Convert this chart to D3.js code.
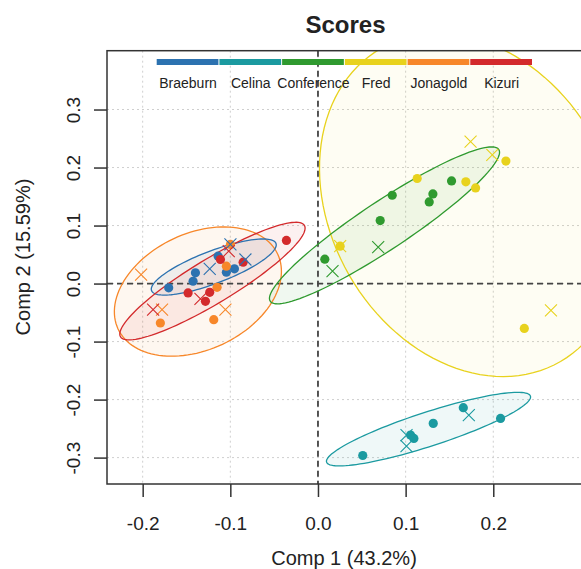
<!DOCTYPE html>
<html>
<head>
<meta charset="utf-8">
<script src="https://cdn.jsdelivr.net/npm/d3@7"></script>
<style>
  body { margin: 0; background: #fff; }
  text { font-family: "Liberation Sans", Arial, sans-serif; fill: #222; }
</style>
</head>
<body>
<div id="chart"></div>
<script>
// groups and colours
const groups = ['Braeburn', 'Celina', 'Conference', 'Fred', 'Jonagold', 'Kizuri'];
const colors = ['#2c72b0', '#1b9aa0', '#2f9a2f', '#e8d21d', '#f7872a', '#d32a2c'];

const xTicks = [-0.2, -0.1, 0.0, 0.1, 0.2];
const yTicks = [-0.3, -0.2, -0.1, 0.0, 0.1, 0.2, 0.3];

// scores (filled dots) per group, [comp1, comp2]
const braeburnDots = [[-0.1139, 0.0472], [-0.1398, 0.0185], [-0.1425, 0.0040], [-0.1703, -0.0074], [-0.1045, 0.0196], [-0.0953, 0.0254]];
const celinaDots = [[0.0511, -0.2964], [0.1056, -0.2612], [0.1094, -0.2670], [0.1315, -0.2410], [0.1658, -0.2140], [0.2083, -0.2324]];
const conferenceDots = [[0.0847, 0.1522], [0.0710, 0.1085], [0.1311, 0.1545], [0.1269, 0.1407], [0.1524, 0.1770], [0.0078, 0.0420]];
const fredDots = [[0.1132, 0.1811], [0.1687, 0.1753], [0.1798, 0.1649], [0.2144, 0.2111], [0.0253, 0.0645], [0.2354, -0.0773]];
const jonagoldDots = [[-0.1798, -0.0680], [-0.1189, -0.0623], [-0.1151, -0.0064], [-0.1045, 0.0299], [-0.0999, 0.0675]];
const kizuriDots = [[-0.1113, 0.0415], [-0.0854, 0.0369], [-0.1482, -0.0161], [-0.1284, -0.0306], [-0.1235, -0.0151], [-0.0360, 0.0744]];

// scores drawn as crosses
const braeburnCrosses = [[-0.1235, 0.0254], [-0.0828, 0.0415], [-0.0999, 0.0675]];
const celinaCrosses = [[0.1010, -0.2612], [0.1010, -0.2803], [0.1721, -0.2266]];
const conferenceCrosses = [[0.0687, 0.0628], [0.0166, 0.0213]];
const fredCrosses = [[0.1741, 0.2445], [0.1989, 0.2220], [0.2658, -0.0462], [0.0253, 0.0645]];
const jonagoldCrosses = [[-0.2018, 0.0156], [-0.1779, -0.0450], [-0.1056, -0.0450]];
const kizuriCrosses = [[-0.1341, -0.0265], [-0.1881, -0.0450], [-0.1018, 0.0559]];

// confidence ellipses: centre, first semi-axis vector, second semi-axis vector
const braeburnEllipse = [-0.1189, 0.0285, 0.0710, 0.0407, 0.0065, -0.0262];
const celinaEllipse = [0.1261, -0.2509, 0.1163, 0.0569, 0.0059, -0.0280];
const conferenceEllipse = [0.0759, 0.1003, 0.1304, 0.1308, 0.0151, -0.0346];
const fredEllipse = [0.1740, 0.1352, 0.1027, -0.2696, -0.1383, -0.1210];
const jonagoldEllipse = [-0.1370, -0.0138, 0.0911, 0.0644, 0.0280, -0.0909];
const kizuriEllipse = [-0.1204, 0.0043, 0.1049, 0.0960, 0.0130, -0.0326];

const dots = [braeburnDots, celinaDots, conferenceDots, fredDots, jonagoldDots, kizuriDots];
const crosses = [braeburnCrosses, celinaCrosses, conferenceCrosses, fredCrosses, jonagoldCrosses, kizuriCrosses];
const ellipses = [braeburnEllipse, celinaEllipse, conferenceEllipse, fredEllipse, jonagoldEllipse, kizuriEllipse];

const width = 581;
const height = 569;
const plot = { left: 107, right: 584, top: 50.7, bottom: 484 };

const svg = d3
  .select('#chart')
  .append('svg')
  .attr('width', width)
  .attr('height', height);

const x = d3.scaleLinear().domain([-0.2407, 0.3035]).range([plot.left, plot.right]);
const y = d3.scaleLinear().domain([-0.3455, 0.4014]).range([plot.bottom, plot.top]);

svg
  .append('clipPath')
  .attr('id', 'clip')
  .append('rect')
  .attr('x', plot.left)
  .attr('y', plot.top)
  .attr('width', plot.right - plot.left)
  .attr('height', plot.bottom - plot.top);

// grid
const grid = svg.append('g').attr('stroke', '#cfcfcf').attr('stroke-width', 1).attr('stroke-dasharray', '2,3');
grid
  .selectAll('.gx')
  .data(xTicks)
  .join('line')
  .attr('x1', (d) => x(d))
  .attr('x2', (d) => x(d))
  .attr('y1', plot.top)
  .attr('y2', plot.bottom);
grid
  .selectAll('.gy')
  .data(yTicks)
  .join('line')
  .attr('x1', plot.left)
  .attr('x2', plot.right)
  .attr('y1', (d) => y(d))
  .attr('y2', (d) => y(d));

// ellipses
const area = svg.append('g').attr('clip-path', 'url(#clip)');
const line = d3.line().curve(d3.curveLinearClosed);
const ellipsePath = (e) =>
  line(
    d3.range(120).map((i) => {
      const t = (i / 120) * 2 * Math.PI;
      return [x(e[0] + e[2] * Math.cos(t) + e[4] * Math.sin(t)), y(e[1] + e[3] * Math.cos(t) + e[5] * Math.sin(t))];
    })
  );

const order = [3, 4, 2, 1, 0, 5];
area
  .selectAll('.ell-fill')
  .data(order)
  .join('path')
  .attr('d', (g) => ellipsePath(ellipses[g]))
  .attr('fill', (g) => colors[g])
  .attr('fill-opacity', (g) => (g === 3 ? 0.05 : 0.07))
  .attr('stroke', 'none');

// zero lines
area
  .append('line')
  .attr('x1', x(0))
  .attr('x2', x(0))
  .attr('y1', plot.top)
  .attr('y2', plot.bottom)
  .attr('stroke', '#444')
  .attr('stroke-width', 1.8)
  .attr('stroke-dasharray', '6,4');
area
  .append('line')
  .attr('x1', plot.left)
  .attr('x2', plot.right)
  .attr('y1', y(0))
  .attr('y2', y(0))
  .attr('stroke', '#444')
  .attr('stroke-width', 1.8)
  .attr('stroke-dasharray', '6,4');

area
  .selectAll('.ell-line')
  .data(order)
  .join('path')
  .attr('d', (g) => ellipsePath(ellipses[g]))
  .attr('fill', 'none')
  .attr('stroke', (g) => colors[g])
  .attr('stroke-width', 1.3);

// points: dots first, crosses on top
groups.forEach((name, g) => {
  area
    .selectAll(null)
    .data(dots[g])
    .join('circle')
    .attr('cx', (d) => x(d[0]))
    .attr('cy', (d) => y(d[1]))
    .attr('r', 4.6)
    .attr('fill', colors[g]);
});
groups.forEach((name, g) => {
  area
    .selectAll(null)
    .data(crosses[g])
    .join('path')
    .attr('d', (d) => {
      const cx = x(d[0]);
      const cy = y(d[1]);
      const s = 6;
      return `M${cx - s},${cy - s}L${cx + s},${cy + s}M${cx - s},${cy + s}L${cx + s},${cy - s}`;
    })
    .attr('stroke', colors[g])
    .attr('stroke-width', 1.1)
    .attr('fill', 'none');
});

// legend
const legendX = d3.scaleBand().domain(groups).range([156.7, 533]);
const legend = svg.append('g');
legend
  .selectAll('rect')
  .data(groups)
  .join('rect')
  .attr('x', (d) => legendX(d))
  .attr('y', 59)
  .attr('width', legendX.bandwidth() - 1)
  .attr('height', 6)
  .attr('fill', (d, i) => colors[i]);
legend
  .selectAll('text')
  .data(groups)
  .join('text')
  .attr('x', (d) => legendX(d) + legendX.bandwidth() / 2)
  .attr('y', 88)
  .attr('text-anchor', 'middle')
  .attr('font-size', 14)
  .text((d) => d);

// frame
svg
  .append('rect')
  .attr('x', plot.left)
  .attr('y', plot.top)
  .attr('width', plot.right - plot.left)
  .attr('height', plot.bottom - plot.top)
  .attr('fill', 'none')
  .attr('stroke', '#333')
  .attr('stroke-width', 1.5);

// axes
const xAxis = svg
  .append('g')
  .attr('transform', `translate(0,${plot.bottom})`)
  .call(d3.axisBottom(x).tickValues(xTicks).tickSize(13).tickPadding(20).tickFormat((d) => d.toFixed(1)));
xAxis.select('.domain').remove();
xAxis.selectAll('line').attr('stroke', '#333').attr('stroke-width', 1.5);
xAxis.selectAll('text').attr('font-size', 19).attr('font-family', 'Liberation Sans, Arial, sans-serif').attr('fill', '#222');

const yAxis = svg
  .append('g')
  .attr('transform', `translate(${plot.left},0)`)
  .call(d3.axisLeft(y).tickValues(yTicks).tickSize(13).tickFormat((d) => d.toFixed(1)));
yAxis.select('.domain').remove();
yAxis.selectAll('line').attr('stroke', '#333').attr('stroke-width', 1.5);
yAxis
  .selectAll('text')
  .attr('font-size', 19)
  .attr('font-family', 'Liberation Sans, Arial, sans-serif')
  .attr('fill', '#222')
  .attr('x', null)
  .attr('dy', null)
  .attr('text-anchor', 'middle')
  .attr('transform', 'translate(-27,0) rotate(-90)');

// titles
svg
  .append('text')
  .attr('x', (plot.left + plot.right) / 2)
  .attr('y', 33)
  .attr('text-anchor', 'middle')
  .attr('font-size', 24)
  .attr('font-weight', 'bold')
  .attr('fill', '#111')
  .text('Scores');

svg
  .append('text')
  .attr('x', 344)
  .attr('y', 565)
  .attr('text-anchor', 'middle')
  .attr('font-size', 20)
  .text('Comp 1 (43.2%)');

svg
  .append('text')
  .attr('transform', 'translate(30,257) rotate(-90)')
  .attr('text-anchor', 'middle')
  .attr('font-size', 20)
  .text('Comp 2 (15.59%)');
</script>
</body>
</html>
